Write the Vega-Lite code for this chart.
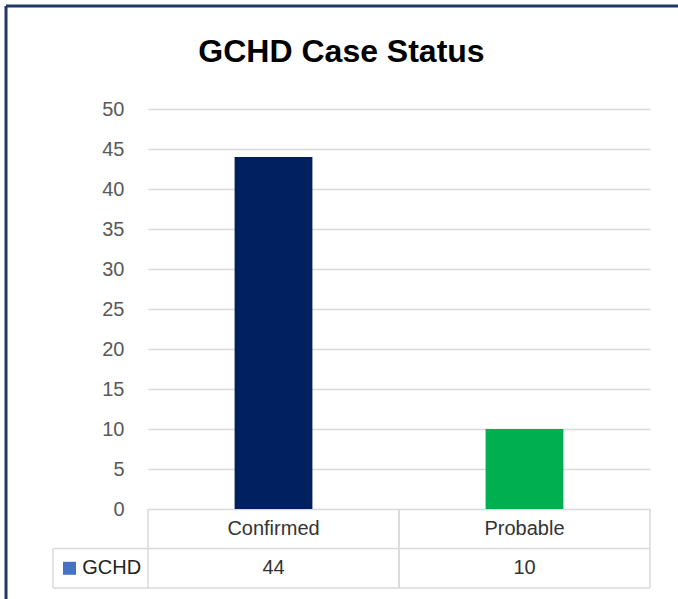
{
  "$schema": "https://vega.github.io/schema/vega-lite/v6.json",
  "width": 502,
  "height": 479,
  "autosize": {"type": "none"},
  "padding": {"left": 148, "top": 109, "right": 28, "bottom": 11},
  "background": "white",
  "title": {
    "text": "GCHD Case Status",
    "font": "Liberation Sans",
    "fontSize": 32,
    "fontWeight": "bold",
    "color": "#000000",
    "anchor": "middle",
    "frame": "group",
    "dx": -57.5,
    "dy": 89.5,
    "baseline": "alphabetic",
    "offset": 0
  },
  "config": {"view": {"stroke": null}, "font": "Liberation Sans"},
  "datasets": {
    "cases": [
      {"status": "Confirmed", "series": "GCHD", "cases": 44},
      {"status": "Probable", "series": "GCHD", "cases": 10}
    ],
    "series": [{"series": "GCHD"}]
  },
  "data": {"name": "cases"},
  "resolve": {"scale": {"x": "independent"}},
  "layer": [
    {
      "layer": [
        {
          "mark": {"type": "bar", "width": {"band": 0.31}},
          "encoding": {
            "x": {"field": "status", "type": "nominal", "scale": {"domain": ["Confirmed", "Probable"], "paddingInner": 0, "paddingOuter": 0}, "axis": null},
            "y": {"field": "cases", "type": "quantitative",
                  "scale": {"domain": [-9.875, 50], "nice": false, "zero": false},
                  "axis": {"values": [0, 5, 10, 15, 20, 25, 30, 35, 40, 45, 50], "title": null, "grid": true, "gridColor": "#d9d9d9", "gridWidth": 1.3, "domain": false, "ticks": false, "labelPadding": 24, "labelFontSize": 20, "labelColor": "#595959", "labelFont": "Liberation Sans"}},
            "y2": {"datum": 0},
            "color": {"field": "status", "type": "nominal", "scale": {"domain": ["Confirmed", "Probable"], "range": ["#002060", "#00B050"]}, "legend": null}
          }
        },
        {
          "mark": {"type": "text", "fontSize": 20, "color": "#333333", "baseline": "middle"},
          "encoding": {
            "x": {"field": "status", "type": "nominal", "axis": null},
            "y": {"datum": -2.47, "type": "quantitative"},
            "text": {"field": "status"}
          }
        },
        {
          "mark": {"type": "text", "fontSize": 20, "color": "#333333", "baseline": "middle"},
          "encoding": {
            "x": {"field": "status", "type": "nominal", "axis": null},
            "y": {"datum": -7.41, "type": "quantitative"},
            "text": {"field": "cases", "type": "quantitative"}
          }
        },
        {
          "mark": {"type": "rule", "color": "#d9d9d9", "strokeWidth": 1.5},
          "encoding": {
            "x": {"field": "status", "type": "nominal", "bandPosition": 0, "axis": null},
            "y": {"datum": 0, "type": "quantitative"},
            "y2": {"datum": -9.875}
          }
        },
        {
          "mark": {"type": "rule", "color": "#d9d9d9", "strokeWidth": 1.5},
          "encoding": {
            "x": {"field": "status", "type": "nominal", "bandPosition": 1, "axis": null},
            "y": {"datum": 0, "type": "quantitative"},
            "y2": {"datum": -9.875}
          }
        }
      ]
    },
    {
      "data": {"name": "series"},
      "layer": [
        {
          "mark": {"type": "rule", "color": "#d9d9d9", "strokeWidth": 1.5},
          "encoding": {
            "x": {"datum": -0.3785, "type": "quantitative", "scale": {"domain": [0, 2], "nice": false, "zero": false}, "axis": null},
            "x2": {"datum": 2},
            "y": {"datum": -4.9375, "type": "quantitative"}
          }
        },
        {
          "mark": {"type": "rule", "color": "#d9d9d9", "strokeWidth": 1.5},
          "encoding": {
            "x": {"datum": -0.3785, "type": "quantitative", "axis": null},
            "x2": {"datum": 2},
            "y": {"datum": -9.875, "type": "quantitative"}
          }
        },
        {
          "mark": {"type": "rule", "color": "#d9d9d9", "strokeWidth": 1.5},
          "encoding": {
            "x": {"datum": -0.3785, "type": "quantitative", "axis": null},
            "y": {"datum": -4.9375, "type": "quantitative"},
            "y2": {"datum": -9.875}
          }
        },
        {
          "mark": {"type": "point", "shape": "square", "filled": true, "opacity": 1, "size": 169, "color": "#4472C4"},
          "encoding": {
            "x": {"datum": -0.3127, "type": "quantitative", "axis": null},
            "y": {"datum": -7.41, "type": "quantitative"}
          }
        },
        {
          "mark": {"type": "text", "fontSize": 20, "color": "#222222", "align": "left", "baseline": "middle"},
          "encoding": {
            "x": {"datum": -0.262, "type": "quantitative", "axis": null},
            "y": {"datum": -7.41, "type": "quantitative"},
            "text": {"field": "series"}
          }
        },
        {
          "mark": {"type": "rule", "color": "#1F3864", "strokeWidth": 3},
          "encoding": {
            "x": {"datum": -0.5657, "type": "quantitative", "axis": null},
            "x2": {"datum": 2.3},
            "y": {"datum": 62.875, "type": "quantitative"}
          }
        },
        {
          "mark": {"type": "rule", "color": "#1F3864", "strokeWidth": 3},
          "encoding": {
            "x": {"datum": -0.5657, "type": "quantitative", "axis": null},
            "y": {"datum": 62.875, "type": "quantitative"},
            "y2": {"datum": -12}
          }
        }
      ]
    }
  ]
}
